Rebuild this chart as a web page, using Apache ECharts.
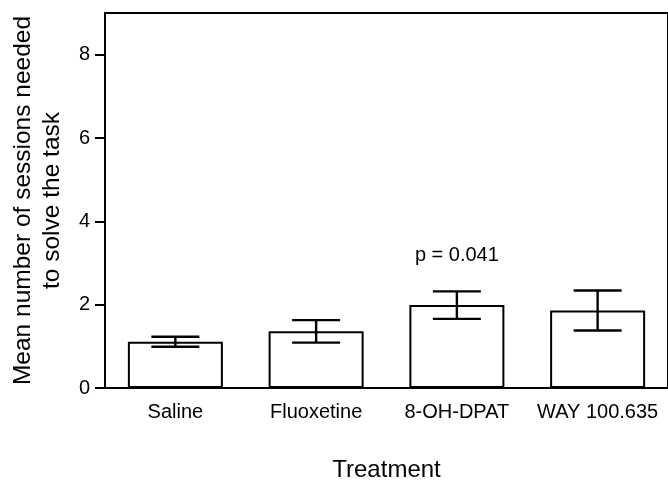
<!DOCTYPE html>
<html>
<head>
<meta charset="utf-8">
<script src="https://cdn.jsdelivr.net/npm/echarts@6/dist/echarts.min.js"></script>
<style>
  html, body { margin: 0; padding: 0; background: #fff; }
  #chart { width: 668px; height: 487px; }
</style>
</head>
<body>
<div id="chart"></div>
<script>
// data
const categories = ["Saline", "Fluoxetine", "8-OH-DPAT", "WAY 100.635"];
const means = [1.11, 1.36, 1.99, 1.86];
const sems = [0.12, 0.27, 0.33, 0.48];
const yTicks = [0, 2, 4, 6, 8];
const pNote = { category: 2, y: 3.17, text: "p = 0.041" };

const font = "'Liberation Sans', Arial, sans-serif";

const errData = categories.map((c, i) => [i, means[i] - sems[i], means[i] + sems[i]]);

const chart = echarts.init(document.getElementById("chart"));
chart.setOption({
  animation: false,
  backgroundColor: "#fff",
  textStyle: { fontFamily: font, color: "#000" },
  grid: {
    left: 105, top: 13, width: 571, height: 380,
    show: true, borderColor: "#000", borderWidth: 2, backgroundColor: "transparent"
  },
  xAxis: {
    type: "category",
    data: categories,
    name: "Treatment",
    nameLocation: "middle",
    nameGap: 70,
    nameTextStyle: { fontSize: 24, color: "#000", fontFamily: font },
    axisLine: { lineStyle: { color: "#000", width: 2 } },
    axisTick: { alignWithLabel: true, length: 10, lineStyle: { color: "#000", width: 2 } },
    axisLabel: { interval: 0, fontSize: 20, color: "#000", margin: 14, fontFamily: font },
    splitLine: { show: false }
  },
  yAxis: {
    type: "value",
    min: 0,
    max: 9,
    name: "Mean number of sessions needed\nto solve the task",
    nameLocation: "middle",
    nameGap: 38,
    nameTextStyle: { fontSize: 24.5, lineHeight: 29, color: "#000", fontFamily: font, align: "center" },
    axisLine: { show: true, lineStyle: { color: "#000", width: 2 } },
    axisTick: { show: true, length: 10, customValues: yTicks, lineStyle: { color: "#000", width: 2 } },
    axisLabel: { fontSize: 20, color: "#000", margin: 15, customValues: yTicks, fontFamily: font },
    splitLine: { show: false }
  },
  series: [
    {
      type: "bar",
      data: means,
      barWidth: 95,
      itemStyle: { color: "#fff", borderColor: "#000", borderWidth: 2 }
    },
    {
      type: "custom",
      z: 3,
      data: errData,
      renderItem: function (params, api) {
        const x = api.value(0);
        const lo = api.coord([x, api.value(1)]);
        const hi = api.coord([x, api.value(2)]);
        const half = 24;
        const st = { stroke: "#000", lineWidth: 2.4 };
        return {
          type: "group",
          children: [
            { type: "line", shape: { x1: hi[0], y1: hi[1], x2: lo[0], y2: lo[1] }, style: st },
            { type: "line", shape: { x1: hi[0] - half, y1: hi[1], x2: hi[0] + half, y2: hi[1] }, style: st },
            { type: "line", shape: { x1: lo[0] - half, y1: lo[1], x2: lo[0] + half, y2: lo[1] }, style: st }
          ]
        };
      }
    },
    {
      type: "custom",
      z: 4,
      data: [[pNote.category, pNote.y]],
      renderItem: function (params, api) {
        const p = api.coord([api.value(0), api.value(1)]);
        return {
          type: "text",
          x: p[0], y: p[1],
          style: {
            text: pNote.text, fontSize: 20, fontFamily: font, fill: "#000",
            align: "center", verticalAlign: "middle"
          }
        };
      }
    }
  ]
});
</script>
</body>
</html>
